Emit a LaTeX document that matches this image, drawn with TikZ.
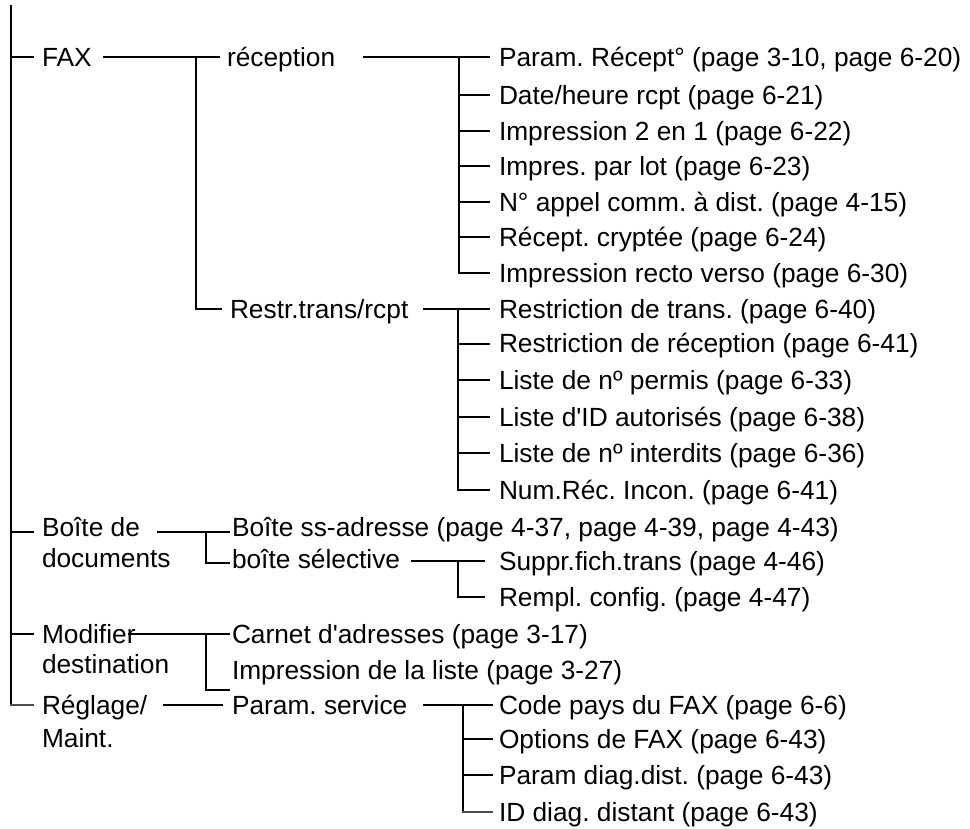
\documentclass[tikz,border=0pt]{standalone}
\usepackage{fontspec}
\newfontfamily\lsans{Liberation Sans}
\frenchspacing
\begin{document}
\begin{tikzpicture}[x=1pt,y=-1pt,line width=2pt,
  lbl/.style={anchor=west,inner sep=0pt,text height=18.9pt,text depth=0pt,
    font=\lsans\fontsize{26.3}{30}\selectfont},
  soft/.style={draw=black!70}]
\useasboundingbox (0,0) rectangle (970,829);
% ---------- nodes ----------
\node[lbl] (fax) at (41,57) {FAX};
\node[lbl] (rec) at (226,57) {réception};
\node[lbl] (restr) at (229,309) {Restr.trans/rcpt};
\node[lbl] (r1) at (498,57) {Param. Récept° (page 3-10, page 6-20)};
\node[lbl] (r2) at (498,95.5) {Date/heure rcpt (page 6-21)};
\node[lbl] (r3) at (498,131) {Impression 2 en 1 (page 6-22)};
\node[lbl] (r4) at (498,166.5) {Impres. par lot (page 6-23)};
\node[lbl] (r5) at (498,202) {N° appel comm. à dist. (page 4-15)};
\node[lbl] (r6) at (498,237.5) {Récept. cryptée (page 6-24)};
\node[lbl] (r7) at (498,273) {Impression recto verso (page 6-30)};
\node[lbl] (s1) at (498,309) {Restriction de trans. (page 6-40)};
\node[lbl] (s2) at (498,343.5) {Restriction de réception (page 6-41)};
\node[lbl] (s3) at (498,380) {Liste de nº permis (page 6-33)};
\node[lbl] (s4) at (498,417) {Liste d'ID autorisés (page 6-38)};
\node[lbl] (s5) at (498,453) {Liste de nº interdits (page 6-36)};
\node[lbl] (s6) at (498,490) {Num.Réc. Incon. (page 6-41)};
\node[lbl] (boiteA) at (41,527) {Boîte de};
\node[lbl] (boiteB) at (41,558) {documents};
\node[lbl] (bss) at (231,527) {Boîte ss-adresse (page 4-37, page 4-39, page 4-43)};
\node[lbl] (bsel) at (231,559) {boîte sélective};
\node[lbl] (b1) at (498,561) {Suppr.fich.trans (page 4-46)};
\node[lbl] (b2) at (498,597) {Rempl. config. (page 4-47)};
\node[lbl] (modA) at (41,634) {Modifier};
\node[lbl] (modB) at (41,664) {destination};
\node[lbl] (carnet) at (231,634) {Carnet d'adresses (page 3-17)};
\node[lbl] (implist) at (231,670) {Impression de la liste (page 3-27)};
\node[lbl] (regA) at (41,705) {Réglage/};
\node[lbl] (regB) at (41,738) {Maint.};
\node[lbl] (param) at (231,705) {Param. service};
\node[lbl] (p1) at (498,705) {Code pays du FAX (page 6-6)};
\node[lbl] (p2) at (498,739) {Options de FAX (page 6-43)};
\node[lbl] (p3) at (498,775) {Param diag.dist. (page 6-43)};
\node[lbl] (p4) at (498,812) {ID diag. distant (page 6-43)};
% ---------- trunk ----------
\coordinate (top) at (11,5);
\draw (top) -- (top |- regA.west);
\draw[soft] ([xshift=-1pt]top |- regA.west) -- ([xshift=-7pt]regA.west);
\draw (top |- fax.west) -- ([xshift=-7pt]fax.west);
\coordinate (bL) at ([yshift=-5pt]boiteA.west);
\draw (top |- bL) -- ([xshift=-7pt]bL);
\draw (top |- modA.west) -- ([xshift=-7pt]modA.west);
% ---------- FAX ----------
\coordinate (faxR) at (103,57);
\draw (faxR) -- ([xshift=-6pt]rec.west);
\coordinate (faxV) at (196,57);
\draw (faxV) |- ([xshift=-7pt]restr.west);
\coordinate (recR) at (363,57);
\draw (recR) -- ([xshift=-8pt]r1.west);
\coordinate (recV) at (459,57);
\draw (recV) |- ([xshift=-8pt]r7.west);
\foreach \n in {r2,r3,r4,r5,r6}
  \draw (recV |- \n.west) -- ([xshift=-8pt]\n.west);
\coordinate (restrR) at (423,309);
\draw (restrR) -- ([xshift=-8pt]s1.west);
\coordinate (restrV) at (458,309);
\draw (restrV) |- ([xshift=-8pt]s6.west);
\foreach \n in {s2,s3,s4,s5}
  \draw (restrV |- \n.west) -- ([xshift=-8pt]\n.west);
% ---------- Boite de documents ----------
\coordinate (boiteR) at (157,532);
\draw (boiteR) -- ([xshift=-1pt,yshift=-5pt]bss.west);
\coordinate (boiteV) at (206,532);
\draw (boiteV) |- ([xshift=-1pt,yshift=-4pt]bsel.west);
\coordinate (bselR) at (411,561);
\draw (bselR) -- ([xshift=-13pt]b1.west);
\coordinate (bselV) at (458,561);
\draw (bselV) |- ([xshift=-13pt]b2.west);
% ---------- Modifier destination ----------
\coordinate (modR) at (128,634);
\draw (modR) -- ([xshift=-1pt]carnet.west);
\coordinate (modV) at (206,634);
\coordinate (modEnd) at (230,690);
\draw (modV) |- (modEnd);
% ---------- Reglage/Maint. ----------
\coordinate (regR) at (163,705);
\draw (regR) -- ([xshift=-8pt]param.west);
\coordinate (paramR) at (423,705);
\draw (paramR) -- ([xshift=-5pt]p1.west);
\coordinate (paramV) at (463,705);
\draw (paramV) -- (paramV |- p4.west);
\draw[soft] ([xshift=-1pt]paramV |- p4.west) -- ([xshift=-5pt]p4.west);
\foreach \n in {p2,p3}
  \draw (paramV |- \n.west) -- ([xshift=-5pt]\n.west);
\end{tikzpicture}
\end{document}
